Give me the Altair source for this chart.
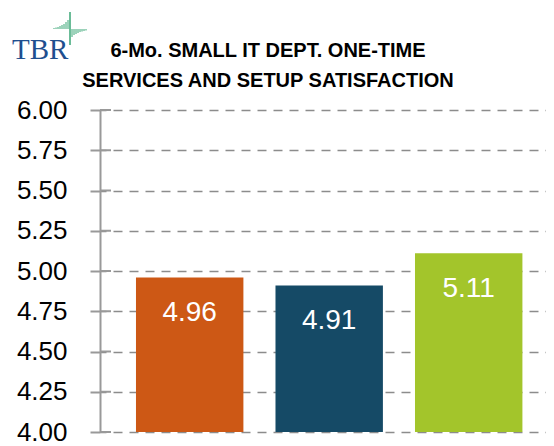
import altair as alt
import pandas as pd

categories = ["Segment 1", "Segment 2", "Segment 3"]
values = [4.96, 4.91, 5.11]
bar_colors = ["#CD5815", "#154A66", "#A3C52B"]
y_ticks = [4.00, 4.25, 4.50, 4.75, 5.00, 5.25, 5.50, 5.75, 6.00]
title_lines = ["6-Mo. SMALL IT DEPT. ONE-TIME", "SERVICES  AND SETUP  SATISFACTION"]
logo_text = "TBR"

df = pd.DataFrame({"cat": categories, "value": values})
ticks_df = pd.DataFrame({"v": y_ticks})
one = pd.DataFrame({"a": [0]})

W, H = 446, 322
FONT = "Liberation Sans"

xscale = alt.Scale(domain=categories, paddingInner=0.23, paddingOuter=0.2135, align=0.604)
yscale = alt.Scale(domain=[4, 6], nice=False, zero=False)

base = alt.Chart(df)

bars = base.mark_bar().encode(
    x=alt.X("cat:N", sort=categories, scale=xscale, axis=None),
    y=alt.Y(
        "value:Q",
        scale=yscale,
        axis=alt.Axis(
            values=y_ticks,
            format=".2f",
            title=None,
            grid=True,
            gridDash=[9, 7],
            gridDashOffset=3,
            gridColor="#8c8c8c",
            gridWidth=1.6,
            domainColor="#999999",
            domainWidth=2,
            tickColor="#999999",
            tickWidth=2,
            tickSize=10,
            labelPadding=23,
            labelFont=FONT,
            labelFontSize=26,
            labelColor="#000000",
        ),
    ),
    y2=alt.datum(4),
    color=alt.Color("cat:N", scale=alt.Scale(domain=categories, range=bar_colors), legend=None),
)

labels = base.mark_text(
    color="white", fontSize=28, font=FONT, baseline="alphabetic", dy=44
).encode(
    x=alt.X("cat:N", sort=categories, scale=xscale, axis=None),
    y=alt.Y("value:Q", scale=yscale),
    text=alt.Text("value:Q", format=".2f"),
)

inner_ticks = alt.Chart(ticks_df).mark_rule(color="#999999", strokeWidth=2).encode(
    y=alt.Y("v:Q", scale=yscale),
    x=alt.value(0),
    x2=alt.value(11),
)

title_mark = alt.Chart(one).mark_text(
    text=title_lines, font=FONT, fontSize=20, fontWeight="bold", color="#000000",
    lineHeight=30, align="center", baseline="alphabetic"
).encode(x=alt.value(168), y=alt.value(-53))

logo_color = "#3aa676"
logo_layers = [
    alt.Chart(one).mark_text(
        text=logo_text, font="Liberation Serif", fontSize=29, color="#1f4f8f",
        align="left", baseline="alphabetic"
    ).encode(x=alt.value(-88), y=alt.value(-51)),
    alt.Chart(one).mark_rule(color=logo_color, strokeWidth=1.5).encode(
        x=alt.value(-30), y=alt.value(-98), y2=alt.value(-65)
    ),
]
left_h = [1, 1.5, 2, 3, 4, 5, 7, 9]
right_h = [8, 6, 5, 4, 3, 2.5, 2, 1.5]
for i, h in enumerate(left_h):
    logo_layers.append(
        alt.Chart(one).mark_rule(color=logo_color, strokeWidth=1).encode(
            x=alt.value(-46 + 2 * i), y=alt.value(-81 - h), y2=alt.value(-81)
        )
    )
for i, h in enumerate(right_h):
    logo_layers.append(
        alt.Chart(one).mark_rule(color=logo_color, strokeWidth=1).encode(
            x=alt.value(-28 + 2 * i), y=alt.value(-81), y2=alt.value(-81 + h)
        )
    )

chart = alt.layer(bars, labels, inner_ticks, title_mark, *logo_layers).properties(
    width=W,
    height=H,
    autosize=alt.AutoSizeParams(type="none"),
    padding={"left": 92, "top": 102, "right": 0, "bottom": 16},
).configure_view(stroke=None)

chart.save("out.html", embed_options={"renderer": "svg", "actions": False})
